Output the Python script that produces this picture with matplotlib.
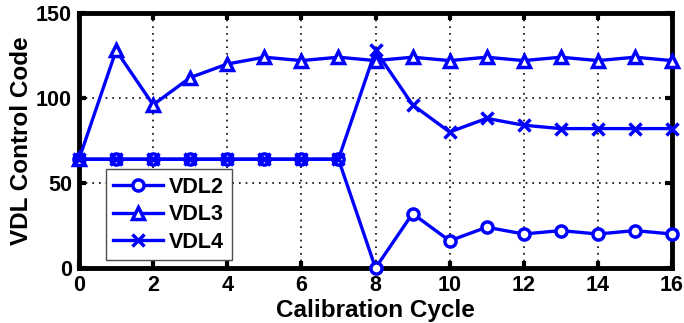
import matplotlib
matplotlib.use('Agg')
import matplotlib.pyplot as plt

plt.rcParams['font.family'] = ['Liberation Sans', 'DejaVu Sans']
plt.rcParams['font.weight'] = 'bold'

cycles = list(range(17))
vdl2 = [64, 64, 64, 64, 64, 64, 64, 64, 0, 32, 16, 24, 20, 22, 20, 22, 20]
vdl3 = [64, 128, 96, 112, 120, 124, 122, 124, 122, 124, 122, 124, 122, 124, 122, 124, 122]
vdl4 = [64, 64, 64, 64, 64, 64, 64, 64, 128, 96, 80, 88, 84, 82, 82, 82, 82]

fig = plt.figure(figsize=(6.84, 3.23), dpi=100)
ax = fig.add_axes([79 / 684, 1 - 268 / 323, (672 - 79) / 684, (268 - 13) / 323])

style = dict(color='blue', lw=2.4, mew=2.5, mfc='white', clip_on=False, zorder=3)
ax.plot(cycles, vdl2, marker='o', ms=8, label='VDL2', **style)
ax.plot(cycles, vdl3, marker='^', ms=9, label='VDL3', **style)
ax.plot(cycles, vdl4, marker='x', ms=8.5, label='VDL4', **style)

ax.set_xlim(0, 16)
ax.set_ylim(0, 150)
ax.set_xticks(range(0, 17, 2))
ax.set_yticks([0, 50, 100, 150])
ax.grid(True, color='black', linestyle=(0, (1, 3)), lw=1.2)
ax.tick_params(direction='in', width=3, length=5, labelsize=15.5, pad=5,
               top=True, right=True)
for lab in ax.get_xticklabels() + ax.get_yticklabels():
    lab.set_fontweight('bold')
for sp in ax.spines.values():
    sp.set_linewidth(3.5)

ax.set_xlabel('Calibration Cycle', fontsize=17.5, fontweight='bold', labelpad=2)
ax.set_ylabel('VDL Control Code', fontsize=17.5, fontweight='bold', labelpad=2)

leg = ax.legend(loc='lower left', bbox_to_anchor=(0.045, 0.03), borderaxespad=0,
                fontsize=15.5, fancybox=False, framealpha=1, edgecolor='0.3',
                handlelength=2.3, borderpad=0.35, labelspacing=0.3, handletextpad=0.3)
leg.get_frame().set_linewidth(1.0)
for t in leg.get_texts():
    t.set_fontweight('bold')

fig.savefig('out.png', dpi=100)
